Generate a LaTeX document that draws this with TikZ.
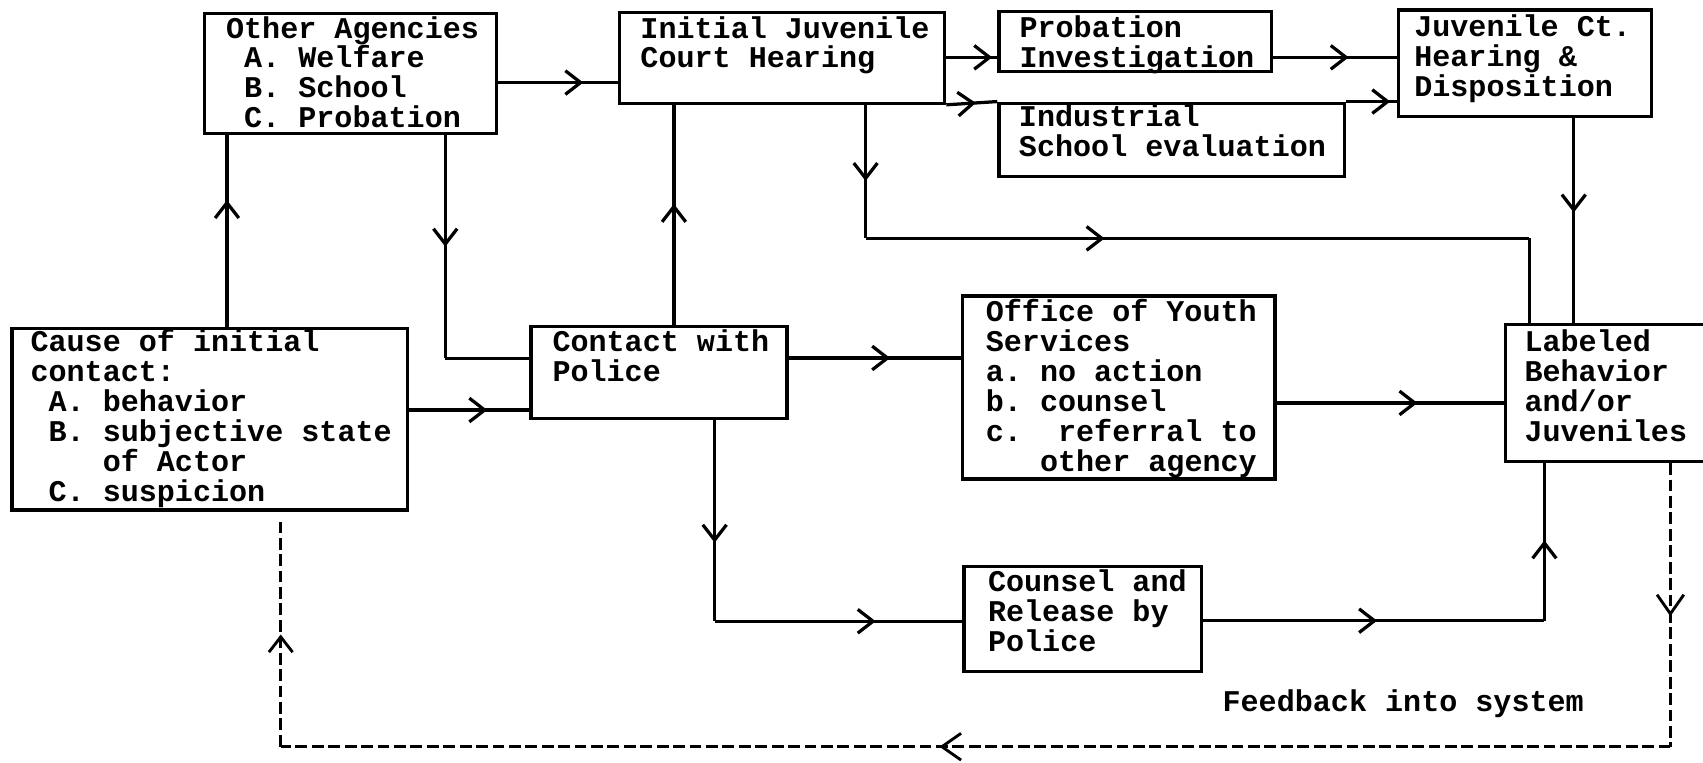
\documentclass[tikz,border=0pt]{standalone}
\usepackage{fontspec}
\setmonofont{Liberation Mono}
\usetikzlibrary{arrows.meta,decorations.markings,fit}
\newcommand\fstrut{\rule{0pt}{5.5pt}}
\tikzset{
  barb/.tip={Straight Barb[length=4pt,width=6.2pt]},
  bigbarb/.tip={Straight Barb[length=5pt,width=7pt]},
  box/.style={draw, line width=0.85pt, inner sep=0pt},
  txt/.style={anchor=north west, inner sep=0pt, align=left,
    font=\ttfamily\bfseries\fontsize{7.88pt}{7.85pt}\selectfont},
  conn/.style={line width=0.85pt},
  fb/.style={line width=0.75pt, dash pattern=on 3.1pt off 1.2pt},
  arrowat/.style={postaction={decorate, decoration={markings,
    mark=at position #1 with {\arrow{barb}}}}},
  bigarrowat/.style={postaction={decorate, decoration={markings,
    mark=at position #1 with {\arrow{bigbarb}}}}}
}
\begin{document}
\begin{tikzpicture}[x=0.01cm,y=-0.01cm]
\useasboundingbox (0,0) rectangle (1568,702);
\fill[white] (0,0) rectangle (1568,702);
\clip (0,0) rectangle (1568,702);
% boxes
\node[box, fit={(188,12.3) (457,122.7)}] (oa) {};
\node[box, fit={(570.6,11.7) (869.8,95)}] (ij) {};
\node[box, fit={(919.7,10.7) (1171,66)}] (pi) {};
\node[box, fit={(919.7,95) (1237.7,162.7)}] (is) {};
\node[box, fit={(1287.6,9.2) (1520.7,107.4)}] (jh) {};
\node[box, fit={(11,302.3) (375,469.6)}] (ci) {};
\node[box, fit={(489,300.8) (724.6,385)}] (cp) {};
\node[box, fit={(886,272.5) (1174,441)}] (oy) {};
\node[box, fit={(887.6,521.7) (1106,618.4)}] (cr) {};
\node[box, fit={(1386,299) (1600,425)}] (lb) {};
% texts
\node[txt] (oat) at (207.5,14.2) {\fstrut Other Agencies\\~A. Welfare\\~B. School\\~C. Probation};
\node[txt] (ijt) at (589,14.2) {\fstrut Initial Juvenile\\Court Hearing};
\node[txt] (pit) at (938,13.7) {\fstrut Probation\\Investigation};
\node[txt] (ist) at (937.5,95.6) {\fstrut Industrial\\School evaluation};
\node[txt] (jht) at (1301.5,12.8) {\fstrut Juvenile Ct.\\Hearing \&\\Disposition};
\node[txt] (cit) at (27.4,302.8) {\fstrut Cause of initial\\contact:\\~A. behavior\\~B. subjective state\\~~~~of Actor\\~C. suspicion};
\node[txt] (cpt) at (508,302.8) {\fstrut Contact with\\Police};
\node[txt] (oyt) at (907,275.2) {\fstrut Office of Youth\\Services\\a. no action\\b. counsel\\c.~~referral to\\~~~other agency};
\node[txt] (crt) at (909,523.8) {\fstrut Counsel and\\Release by\\Police};
\node[txt] (lbt) at (1403,302.8) {\fstrut Labeled\\Behavior\\and/or\\Juveniles};
\node[txt] (fbt) at (1125,634.2) {\fstrut Feedback into system};
% connectors
\draw[conn, arrowat=0.66] (209,0 |- ci.north) -- (209,0 |- oa.south);
\coordinate (b1) at (410,330);
\draw[conn, arrowat=0.5] (410,0 |- oa.south) -- (b1);
\draw[conn] (b1) -- (b1 -| cp.west);
\draw[conn, arrowat=0.71] (oa.east |- 0,76) -- (ij.west |- 0,76);
\draw[conn, arrowat=0.65] (ci.east |- 0,377.5) -- (cp.west |- 0,377.5);
\draw[conn, arrowat=0.55] (620.5,0 |- cp.north) -- (620.5,0 |- ij.south);
\draw[conn, arrowat=0.9] (ij.east |- 0,52.8) -- (pi.west |- 0,52.8);
\draw[conn, arrowat=0.58] (ij.south east) -- (is.north west);
\draw[conn, arrowat=0.61] (pi.east |- 0,52.8) -- (jh.west |- 0,52.8);
\draw[conn, arrowat=0.87] (is.north east) -- (jh.west |- is.north east);
\coordinate (j1) at (797,219.5);
\coordinate (j2) at (1408,219.5);
\draw[conn, arrowat=0.57] (797,0 |- ij.south) -- (j1);
\draw[conn, arrowat=0.36] (j1) -- (j2);
\draw[conn] (j2) -- (j2 |- lb.north);
\draw[conn, arrowat=0.46] (1449,0 |- jh.south) -- (1449,0 |- lb.north);
\draw[conn, arrowat=0.59] (cp.east |- 0,329.6) -- (oy.west |- 0,329.6);
\draw[conn, arrowat=0.62] (oy.east |- 0,371) -- (lb.west |- 0,371);
\coordinate (n1) at (658,572);
\draw[conn, arrowat=0.61] (658,0 |- cp.south) -- (n1);
\draw[conn, arrowat=0.65] (n1) -- (n1 -| cr.west);
\coordinate (o1) at (1422,571.5);
\draw[conn, arrowat=0.51] (cr.east |- o1) -- (o1);
\draw[conn, arrowat=0.51] (o1) -- (o1 |- lb.south);
% feedback
\coordinate (p1) at (1538,687.5);
\coordinate (p2) at (258.5,687.5);
\coordinate (p3) at (258.5,481);
\draw[fb, bigarrowat=0.54] (1538,0 |- lb.south) -- (p1);
\draw[fb, bigarrowat=0.526] (p1) -- (p2);
\draw[fb, arrowat=0.5] (p2) -- (p3);
\end{tikzpicture}
\end{document}
